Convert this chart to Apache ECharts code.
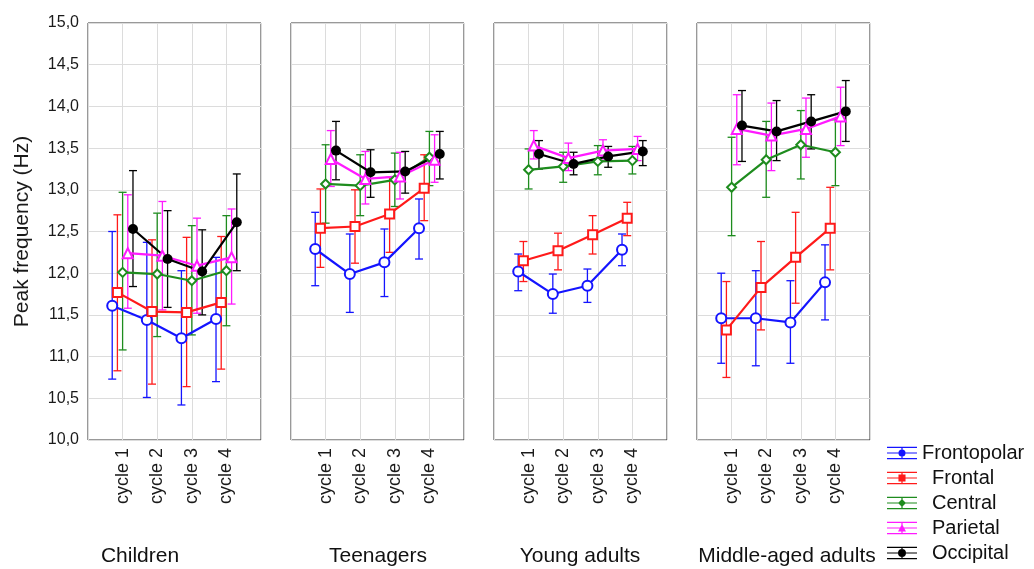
<!DOCTYPE html>
<html><head><meta charset="utf-8">
<script src="https://cdn.jsdelivr.net/npm/echarts@6/dist/echarts.min.js"></script>
<style>html,body{margin:0;padding:0;background:#fff}#c{width:1034px;height:569px}</style>
</head><body><div id="c"></div>
<script>
// ---------- DATA ----------
const groups = ['Children', 'Teenagers', 'Young adults', 'Middle-aged adults'];
const cycles = ['cycle 1', 'cycle 2', 'cycle 3', 'cycle 4'];
const seriesNames = ['Frontopolar', 'Frontal', 'Central', 'Parietal', 'Occipital'];
const yTicks = [10.0, 10.5, 11.0, 11.5, 12.0, 12.5, 13.0, 13.5, 14.0, 14.5, 15.0];

// each array: 4 groups x 4 cycles (Children c1..c4, Teenagers c1..c4, Young adults c1..c4, Middle-aged c1..c4)
const frontopolarMean = [11.61, 11.44, 11.22, 11.45, 12.29, 11.99, 12.13, 12.54, 12.02, 11.75, 11.85, 12.28, 11.46, 11.46, 11.41, 11.89];
const frontopolarLow  = [10.73, 10.51, 10.42, 10.70, 11.85, 11.53, 11.72, 12.17, 11.79, 11.52, 11.65, 12.09, 10.92, 10.89, 10.92, 11.44];
const frontopolarHigh = [12.50, 12.37, 12.03, 12.19, 12.73, 12.47, 12.53, 12.89, 12.23, 11.99, 12.05, 12.47, 12.00, 12.03, 11.91, 12.34];

const frontalMean = [11.77, 11.54, 11.53, 11.65, 12.54, 12.56, 12.71, 13.02, 12.15, 12.27, 12.46, 12.66, 11.32, 11.83, 12.19, 12.54];
const frontalLow  = [10.83, 10.67, 10.64, 10.85, 12.07, 12.12, 12.25, 12.63, 11.90, 12.04, 12.23, 12.45, 10.75, 11.32, 11.64, 12.04];
const frontalHigh = [12.70, 12.40, 12.43, 12.44, 13.01, 13.00, 13.15, 13.42, 12.38, 12.48, 12.69, 12.85, 11.90, 12.38, 12.73, 13.03];

const centralMean = [12.01, 11.99, 11.91, 12.03, 13.07, 13.05, 13.12, 13.39, 13.24, 13.28, 13.34, 13.35, 13.03, 13.36, 13.54, 13.45];
const centralLow  = [11.08, 11.24, 11.26, 11.37, 12.60, 12.69, 12.80, 13.05, 13.01, 13.09, 13.18, 13.19, 12.45, 12.91, 13.13, 13.05];
const centralHigh = [12.97, 12.72, 12.57, 12.69, 13.54, 13.42, 13.44, 13.70, 13.49, 13.45, 13.53, 13.52, 13.63, 13.82, 13.95, 13.84];

const parietalMean = [12.24, 12.21, 12.09, 12.19, 13.37, 13.13, 13.16, 13.36, 13.53, 13.38, 13.47, 13.49, 13.73, 13.65, 13.73, 13.88];
const parietalLow  = [11.58, 11.56, 11.52, 11.63, 13.04, 12.83, 12.89, 13.09, 13.37, 13.23, 13.34, 13.35, 13.30, 13.23, 13.39, 13.53];
const parietalHigh = [12.94, 12.86, 12.66, 12.77, 13.71, 13.46, 13.45, 13.66, 13.71, 13.56, 13.60, 13.64, 14.14, 14.04, 14.10, 14.23];

const occipitalMean = [12.53, 12.17, 12.02, 12.61, 13.47, 13.21, 13.22, 13.43, 13.43, 13.31, 13.40, 13.46, 13.77, 13.70, 13.82, 13.94];
const occipitalLow  = [11.84, 11.59, 11.50, 12.03, 13.12, 12.91, 12.96, 13.13, 13.25, 13.18, 13.27, 13.29, 13.34, 13.35, 13.49, 13.58];
const occipitalHigh = [13.23, 12.75, 12.52, 13.19, 13.82, 13.48, 13.46, 13.70, 13.59, 13.45, 13.52, 13.59, 14.19, 14.07, 14.14, 14.31];

// ---------- STYLE / LAYOUT ----------
const means = [frontopolarMean, frontalMean, centralMean, parietalMean, occipitalMean];
const lows = [frontopolarLow, frontalLow, centralLow, parietalLow, occipitalLow];
const highs = [frontopolarHigh, frontalHigh, centralHigh, parietalHigh, occipitalHigh];
const colors = ['#1414ff', '#ff1a1a', '#1e8c1e', '#ff1aff', '#000000'];
const symbols = ['emptyCircle', 'emptyRect', 'emptyDiamond', 'emptyTriangle', 'circle'];
const symbolSizes = [10, 9, 9, 10, 10];
const dodge = [-0.3, -0.15, 0, 0.15, 0.3];
const FONT = '"Liberation Sans", Arial, sans-serif';
const panelLefts = [88, 291, 494, 697];
const panelW = 173, panelTop = 23, panelH = 417;
const titleX = [140, 378, 580, 787];

const grids = [], xAxes = [], yAxes = [], series = [];
const gridLine = '#dcdcdc', frame = '#333';

groups.forEach((g, gi) => {
  grids.push({left: panelLefts[gi], top: panelTop, width: panelW, height: panelH,
    show: true, borderColor: frame, borderWidth: 1, backgroundColor: 'transparent', containLabel: false});
  xAxes.push({type: 'value', gridIndex: gi, min: 0, max: 5, interval: 1, position: 'bottom',
    axisLine: {show: false}, axisTick: {show: false},
    splitLine: {show: true, lineStyle: {color: gridLine, width: 1}},
    axisLabel: {rotate: 90, fontSize: 18, fontFamily: FONT, color: '#1a1a1a', margin: 8,
      formatter: v => (v >= 1 && v <= 4) ? cycles[v - 1] : ''}});
  yAxes.push({type: 'value', gridIndex: gi, min: 10, max: 15, interval: 0.5, position: 'left',
    axisLine: {show: false}, axisTick: {show: false},
    splitLine: {show: true, lineStyle: {color: gridLine, width: 1}},
    axisLabel: {show: gi === 0, fontSize: 16, fontFamily: FONT, color: '#1a1a1a', margin: 9,
      formatter: v => yTicks.includes(v) ? v.toFixed(1).replace('.', ',') : ''},
    name: gi === 0 ? 'Peak frequency (Hz)' : '', nameLocation: 'middle', nameGap: 55,
    nameTextStyle: {fontSize: 21, fontFamily: FONT, color: '#1a1a1a'}});

  seriesNames.forEach((name, si) => {
    const col = colors[si];
    const ebData = cycles.map((c, ci) => [ci + 1 + dodge[si], lows[si][gi * 4 + ci], highs[si][gi * 4 + ci]]);
    series.push({
      type: 'custom', name, xAxisIndex: gi, yAxisIndex: gi, data: ebData,
      encode: {x: 0, y: [1, 2]}, silent: true, color: col,
      renderItem: (params, api) => {
        const x = api.value(0);
        const pHi = api.coord([x, api.value(2)]);
        const pLo = api.coord([x, api.value(1)]);
        const w = 4;
        const st = {stroke: col, lineWidth: 1.3};
        return {type: 'group', children: [
          {type: 'line', shape: {x1: pHi[0], y1: pHi[1], x2: pLo[0], y2: pLo[1]}, style: st},
          {type: 'line', shape: {x1: pHi[0] - w, y1: pHi[1], x2: pHi[0] + w, y2: pHi[1]}, style: st},
          {type: 'line', shape: {x1: pLo[0] - w, y1: pLo[1], x2: pLo[0] + w, y2: pLo[1]}, style: st}
        ]};
      }
    });
    series.push({
      type: 'line', name, xAxisIndex: gi, yAxisIndex: gi,
      data: cycles.map((c, ci) => [ci + 1 + dodge[si], means[si][gi * 4 + ci]]),
      color: col, symbol: symbols[si], symbolSize: symbolSizes[si], showAllSymbol: true,
      lineStyle: {width: 2.2, color: col},
      itemStyle: {color: col, borderColor: col, borderWidth: si === 4 ? 0 : 1.2, opacity: 1},
      emphasis: {disabled: true}, animation: false
    });
  });
});

// legend icons (error-bar glyph with marker)
const barPart = 'M0,0H34V1.4H0Z M0,6.3H34V7.7H0Z M0,12.6H34V14H0Z M16.3,0H17.7V14H16.3Z ';
const markerParts = [
  'M13,7A4,4 0 1 1 21,7A4,4 0 1 1 13,7Z',
  'M13,3H21V11H13Z',
  'M17,2.5L21.5,7L17,11.5L12.5,7Z',
  'M17,2.5L21.5,11L12.5,11Z',
  'M12.5,7A4.5,4.5 0 1 1 21.5,7A4.5,4.5 0 1 1 12.5,7Z'
];

const option = {
  backgroundColor: '#fff',
  animation: false,
  textStyle: {fontFamily: FONT},
  grid: grids, xAxis: xAxes, yAxis: yAxes, series,
  legend: {
    orient: 'vertical', left: 887, top: 443, padding: 0, itemWidth: 30, itemHeight: 14, itemGap: 5,
    selectedMode: false,
    data: seriesNames.map((n, i) => ({name: n, icon: 'path://' + barPart + markerParts[i], itemStyle: {color: colors[i]}})),
    formatter: n => n === 'Frontopolar' ? '{a|' + n + '}' : '{b|' + n + '}',
    textStyle: {fontSize: 20, fontFamily: FONT, color: '#111',
      rich: {a: {fontSize: 20, fontFamily: FONT, color: '#111'},
             b: {fontSize: 20, fontFamily: FONT, color: '#111', padding: [0, 0, 0, 10]}}}
  },
  graphic: groups.map((g, gi) => ({
    type: 'text', x: titleX[gi], y: 556,
    style: {text: g, font: '21px ' + FONT, fill: '#111', textAlign: 'center', textVerticalAlign: 'middle'}
  }))
};

const chart = echarts.init(document.getElementById('c'), null, {renderer: 'canvas'});
chart.setOption(option);
</script>
</body></html>
